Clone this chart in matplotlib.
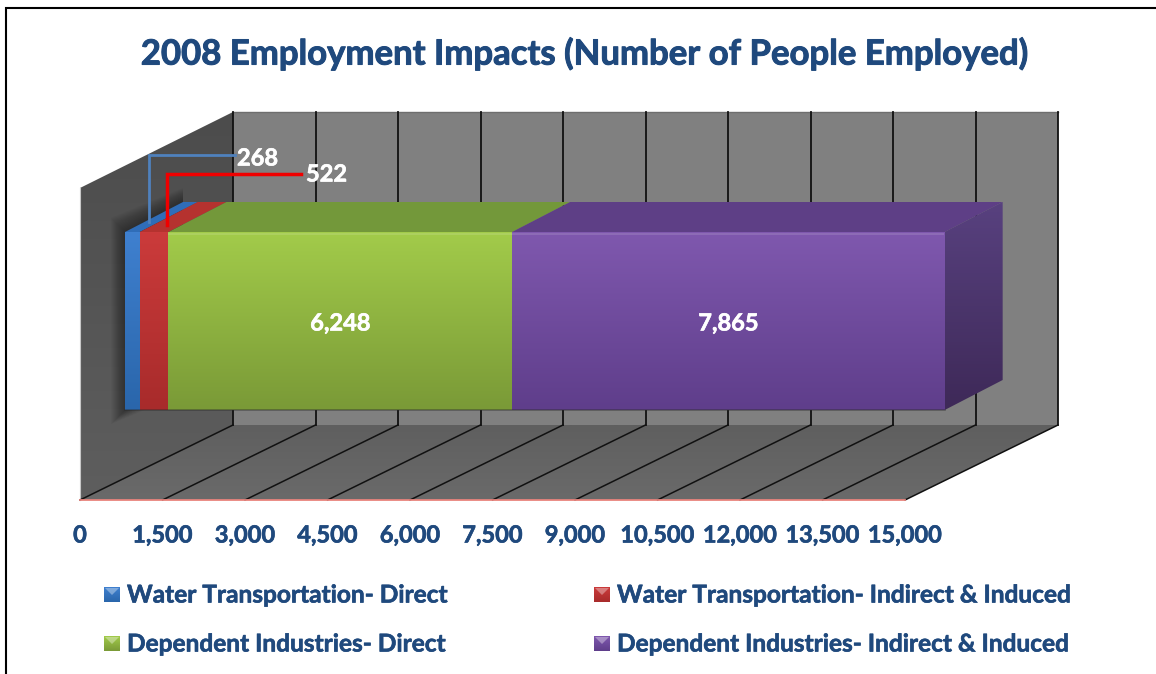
import matplotlib
matplotlib.use('Agg')
import matplotlib.pyplot as plt
import matplotlib.patheffects as pe
import numpy as np
from matplotlib.patches import Polygon
from matplotlib.colors import LinearSegmentedColormap

plt.rcParams['font.family'] = ['Lato', 'DejaVu Sans']

title = '2008 Employment Impacts (Number of People Employed)'
series_names = ['Water Transportation- Direct', 'Water Transportation- Indirect & Induced',
                'Dependent Industries- Direct', 'Dependent Industries- Indirect & Induced']
series_values = [268, 522, 6248, 7865]
ticks = [0, 1500, 3000, 4500, 6000, 7500, 9000, 10500, 12000, 13500, 15000]

front_top = ['#3F80CF', '#CB3B3B', '#A2CB4A', '#7F58AE']
front_bottom = ['#2A66AB', '#A82B2B', '#7A9A37', '#5F3E8B']
top_colors = ['#2F6DB8', '#B5322F', '#73983A', '#5E3F86']
navy = '#1F497D'

# floor and walls, in pixels
x0, px_per_unit = 80, 825 / 15000
dx, dy = 153, -75
wall_top, floor_back, floor_front = 112, 425, 500
bar_x0, bar_top, bar_bottom = 125, 232, 410
bar_dx, bar_dy = 58, -30


def xpos(v):
    return x0 + v * px_per_unit


def gradient_face(ax, pts, c1, c2, zorder):
    # vertical gradient clipped to a polygon
    cmap = LinearSegmentedColormap.from_list('face', [c1, c2])
    pts = np.array(pts)
    im = ax.imshow(np.linspace(0, 1, 64).reshape(-1, 1), cmap=cmap, aspect='auto', zorder=zorder,
                   extent=(pts[:, 0].min(), pts[:, 0].max(), pts[:, 1].max(), pts[:, 1].min()))
    im.set_clip_path(Polygon(pts, transform=ax.transData))


def bold_text(ax, x, y, s, color, size, stroke=0.45, **kw):
    # Lato Bold is a little light, so thicken it with a thin stroke
    ax.text(x, y, s, color=color, fontsize=size, fontweight='bold', va='center',
            path_effects=[pe.withStroke(linewidth=stroke, foreground=color)], **kw)


fig = plt.figure(figsize=(11.56, 6.74), dpi=100)
ax = fig.add_axes([0, 0, 1, 1])
ax.axis('off')

x_end = xpos(ticks[-1])

# back wall, left wall, floor
ax.add_patch(Polygon([(x0 + dx, wall_top), (x_end + dx, wall_top), (x_end + dx, floor_back), (x0 + dx, floor_back)],
                     fc='#808080', ec='none', zorder=1))
gradient_face(ax, [(x0, wall_top + 76), (x0 + dx, wall_top), (x0 + dx, floor_back), (x0, floor_front)],
              '#4C4C4C', '#5E5E5E', 1)
gradient_face(ax, [(x0, floor_front), (x0 + dx, floor_back), (x_end + dx, floor_back), (x_end, floor_front)],
              '#5F5F5F', '#6A6A6A', 1)
ax.plot([x0 + dx, x_end + dx], [wall_top, wall_top], color='#6E6E6E', lw=1, zorder=2)
ax.plot([x0, x0], [wall_top + 76, floor_front], color='#C8C8C8', lw=0.8, zorder=2)

# gridlines on the back wall and the floor
for t in ticks:
    x = xpos(t)
    ax.plot([x + dx, x + dx], [wall_top, floor_back], color='#111111', lw=1.3, zorder=2)
    ax.plot([x, x + dx], [floor_front, floor_back], color='#111111', lw=1.1, zorder=2)
ax.plot([x0, x_end], [floor_front, floor_front], color='#E8837C', lw=1.3, zorder=2)

# soft shadow of the bar on the left wall
for grow in range(1, 15):
    ax.add_patch(Polygon([(bar_x0 - grow, bar_top - grow), (bar_x0 + bar_dx, bar_top + bar_dy - grow),
                          (bar_x0 + bar_dx, bar_bottom + bar_dy + grow), (bar_x0 - grow, bar_bottom + grow)],
                         fc='black', ec='none', alpha=0.03, zorder=2.5))

# stacked bar: front and top faces, far end last
left = bar_x0
edges = []
for v, c1, c2, ctop in zip(series_values, front_top, front_bottom, top_colors):
    right = left + v * px_per_unit
    gradient_face(ax, [(left, bar_top), (right, bar_top), (right, bar_bottom), (left, bar_bottom)], c1, c2, 4)
    ax.add_patch(Polygon([(left, bar_top), (left + bar_dx, bar_top + bar_dy),
                          (right + bar_dx, bar_top + bar_dy), (right, bar_top)], fc=ctop, ec='none', zorder=3))
    edges.append((left, right))
    left = right
right = edges[-1][1]
gradient_face(ax, [(right, bar_top), (right + bar_dx, bar_top + bar_dy),
                   (right + bar_dx, bar_bottom + bar_dy), (right, bar_bottom)], '#58417F', '#3E2958', 3)
ax.plot([edges[2][0] + 1, right - 2], [bar_top + 1.5, bar_top + 1.5], color='white', alpha=0.12, lw=1.5, zorder=5)
ax.plot([bar_x0, right], [bar_bottom, bar_bottom], color='#2A2A2A', alpha=0.45, lw=1.2, zorder=5)

# value labels
for v, (a, b) in list(zip(series_values, edges))[2:]:
    bold_text(ax, (a + b) / 2, 323, f'{v:,}', 'white', 17, ha='center', zorder=6)
ax.plot([149, 149, 235], [222, 155, 155], color='#4F81BD', lw=2, zorder=6, solid_joinstyle='miter')
ax.plot([167, 167, 301], [225, 174, 174], color='#F00000', lw=2.5, zorder=6, solid_joinstyle='miter')
bold_text(ax, 237, 158, f'{series_values[0]:,}', 'white', 17, zorder=6)
bold_text(ax, 306, 174, f'{series_values[1]:,}', 'white', 17, zorder=6)

# axis tick labels
for t in ticks:
    bold_text(ax, xpos(t), 535, f'{t:,}', navy, 17, ha='center')

bold_text(ax, 585, 54, title, navy, 25, stroke=0.7, ha='center')

# legend
swatch_x = [104, 594, 104, 594]
row_y = [594, 594, 643, 643]
for name, sx, sy, c1, c2 in zip(series_names, swatch_x, row_y, front_top, front_bottom):
    gradient_face(ax, [(sx, sy - 7), (sx + 16, sy - 7), (sx + 16, sy + 8), (sx, sy + 8)], c1, c2, 3)
    ax.add_patch(Polygon([(sx + 1, sy - 6), (sx + 15, sy - 6), (sx + 8, sy + 1)], fc='white', alpha=0.35, ec='none', zorder=4))
    bold_text(ax, sx + 23, sy + 1, name, navy, 17.6)

# outer frame
ax.plot([6, 6, 1156], [674, 7.5, 7.5], color='black', lw=1.5, solid_joinstyle='miter')

ax.set_xlim(0, 1156)
ax.set_ylim(674, 0)
fig.savefig('out.png', dpi=100)
